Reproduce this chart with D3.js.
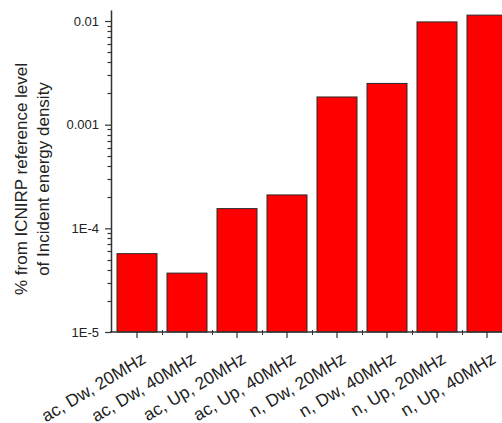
<!DOCTYPE html>
<html>
<head>
<meta charset="utf-8">
<script src="https://cdn.jsdelivr.net/npm/d3@7"></script>
<style>
    body { margin: 0; background: #fff; }
    svg { display: block; font-family: 'Liberation Sans', Arial, sans-serif; }
</style>
</head>
<body>
<div id="chart"></div>
<script>
//
// DATA
//
const categories = [
    'ac, Dw, 20MHz',
    'ac, Dw, 40MHz',
    'ac, Up, 20MHz',
    'ac, Up, 40MHz',
    'n, Dw, 20MHz',
    'n, Dw, 40MHz',
    'n, Up, 20MHz',
    'n, Up, 40MHz'
]
const values = [5.7e-5, 3.7e-5, 1.55e-4, 2.1e-4, 1.85e-3, 2.5e-3, 0.0098, 0.0114]
const yTickValues = [1e-5, 1e-4, 1e-3, 1e-2]
const yTickLabels = ['1E-5', '1E-4', '0.001', '0.01']
const yTitle = ['% from ICNIRP reference level', 'of Incident energy density']

const width = 502
const height = 423

const svg = d3
    .select('#chart')
    .append('svg')
    .attr('width', width)
    .attr('height', height)

// scales
const x = d3
    .scaleBand()
    .domain(categories)
    .range([112, 512])
    .paddingInner(0.2)
    .paddingOuter(0.1)
const y = d3
    .scaleLog()
    .domain([1e-5, 0.01277])
    .range([332, 10])

// bars
svg.append('g')
    .selectAll('rect')
    .data(values)
    .enter()
    .append('rect')
    .attr('x', (d, i) => x(categories[i]))
    .attr('width', x.bandwidth())
    .attr('y', d => y(d))
    .attr('height', d => y(1e-5) - y(d))
    .attr('fill', '#ff0000')
    .attr('stroke', '#2a2a2a')
    .attr('stroke-width', 1)

// y minor ticks (2..9 in every decade)
const minor = []
yTickValues.forEach(v => {
    for (let k = 2; k <= 9; k++) if (v * k <= y.domain()[1]) minor.push(v * k)
})
svg.append('g')
    .selectAll('line')
    .data(minor)
    .enter()
    .append('line')
    .attr('x1', 107.5)
    .attr('x2', 111)
    .attr('y1', d => Math.round(y(d)) + 0.5)
    .attr('y2', d => Math.round(y(d)) + 0.5)
    .attr('stroke', '#333')
    .attr('stroke-width', 1.2)

// y axis
const yAxis = svg
    .append('g')
    .attr('transform', 'translate(111,0)')
    .call(
        d3
            .axisLeft(y)
            .tickValues(yTickValues)
            .tickFormat((d, i) => yTickLabels[i])
            .tickSize(6)
            .tickSizeOuter(0)
            .tickPadding(6)
    )
yAxis.select('.domain').attr('stroke', '#333').attr('stroke-width', 1.5)
yAxis.selectAll('.tick line').attr('stroke', '#333').attr('stroke-width', 1.2)
yAxis.selectAll('.tick text').attr('font-size', 13).attr('fill', '#222')

// x minor ticks between bars
const bounds = categories.slice(1).map(c => x(c) - (x.step() - x.bandwidth()) / 2)
svg.append('g')
    .selectAll('line')
    .data(bounds)
    .enter()
    .append('line')
    .attr('x1', d => Math.round(d) + 0.5)
    .attr('x2', d => Math.round(d) + 0.5)
    .attr('y1', 330)
    .attr('y2', 335)
    .attr('stroke', '#333')

// x axis
const xAxis = svg
    .append('g')
    .attr('transform', 'translate(0,332)')
    .call(d3.axisBottom(x).tickSize(6).tickSizeOuter(0))
xAxis.select('.domain').attr('stroke', '#333').attr('stroke-width', 1.5).attr('d', 'M110,0H512')
xAxis.selectAll('.tick line').attr('stroke', '#333').attr('stroke-width', 1.2)
xAxis
    .selectAll('.tick text')
    .attr('font-size', 17.5)
    .attr('fill', '#222')
    .attr('text-anchor', 'end')
    .attr('dy', 0)
    .attr('y', 0)
    .attr('transform', 'translate(10,30) rotate(-31)')

// y title, two lines
svg.append('text')
    .attr('transform', 'translate(0,179) rotate(-90)')
    .attr('text-anchor', 'middle')
    .attr('font-size', 17)
    .attr('fill', '#222')
    .selectAll('tspan')
    .data(yTitle)
    .enter()
    .append('tspan')
    .attr('x', 0)
    .attr('y', (d, i) => 27 + i * 22)
    .text(d => d)
</script>
</body>
</html>
